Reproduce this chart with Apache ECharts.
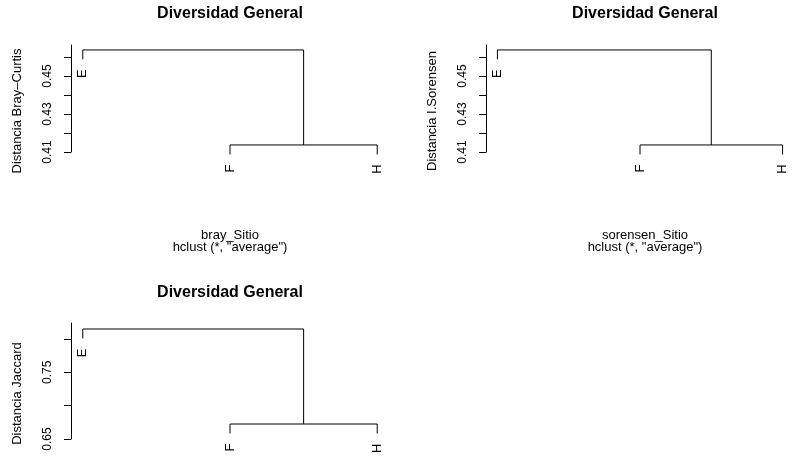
<!DOCTYPE html>
<html><head><meta charset="utf-8">
<script src="https://cdn.jsdelivr.net/npm/echarts@6/dist/echarts.min.js"></script>
<style>html,body{margin:0;padding:0;background:#fff}#c{width:794px;height:457px}</style>
</head><body><div id="c"></div>
<script>
// ---- data ----
const leafLabels = ['E', 'F', 'H'];           // leaves in plotting order
const mergeLeft  = [-2, -1];                   // R hclust merge matrix (negative = leaf)
const mergeRight = [-3, 1];
const brayHeights     = [0.4137, 0.4637];
const sorensenHeights = [0.4137, 0.4637];
const jaccardHeights  = [0.6725, 0.815];
const brayTicks        = [0.41, 0.42, 0.43, 0.44, 0.45, 0.46];
const brayTickLabels   = [0.41, 0.43, 0.45];
const jaccardTicks      = [0.65, 0.70, 0.75, 0.80];
const jaccardTickLabels = [0.65, 0.75];
const brayAxisRange    = [0.41, 0.4663];
const jaccardAxisRange = [0.65, 0.824];
const panelTitle = 'Diversidad General';
const yNames = ['Distancia Bray–Curtis', 'Distancia I.Sorensen', 'Distancia Jaccard'];
const subTitles = ['bray_Sitio\nhclust (*, "average")', 'sorensen_Sitio\nhclust (*, "average")'];

const FONT = '"Liberation Sans", Arial, Helvetica, sans-serif';

function dendro(heights) {
  const hang = 0.1 * (Math.max(...heights) - Math.min(...heights));
  const mx = [];
  const segs = [];
  const leaves = [];
  function child(id, h) {
    if (id < 0) {
      const pos = -id;
      leaves.push([pos, h - hang, pos - 1]);
      return [pos, h - hang];
    }
    return [mx[id - 1], heights[id - 1]];
  }
  for (let i = 0; i < heights.length; i++) {
    const h = heights[i];
    const l = child(mergeLeft[i], h);
    const r = child(mergeRight[i], h);
    mx.push((l[0] + r[0]) / 2);
    segs.push([l[0], l[1], r[0], r[1], h]);
  }
  return { segs, leaves };
}

const panels = [
  { heights: brayHeights, ticks: brayTicks, labels: brayTickLabels, range: brayAxisRange },
  { heights: sorensenHeights, ticks: brayTicks, labels: brayTickLabels, range: brayAxisRange },
  { heights: jaccardHeights, ticks: jaccardTicks, labels: jaccardTickLabels, range: jaccardAxisRange }
];
const grids = [
  { left: 71, top: 45, width: 318, height: 107 },
  { left: 486, top: 45, width: 318, height: 107 },
  { left: 71, top: 323, width: 318, height: 116 }
];

const xAxis = [], yAxis = [], series = [];
panels.forEach((p, i) => {
  xAxis.push({ gridIndex: i, type: 'value', min: 0.92, max: leafLabels.length + 0.08, show: false });
  yAxis.push({
    gridIndex: i, type: 'value', min: p.range[0], max: p.range[1],
    splitLine: { show: false },
    axisLine: { show: true, lineStyle: { color: '#000', width: 1 } },
    axisTick: { show: true, length: 7, customValues: p.ticks, lineStyle: { color: '#000', width: 1 } },
    axisLabel: { customValues: p.labels, rotate: 90, margin: 17, color: '#000', fontSize: 12, fontFamily: FONT,
      formatter: v => Number(v).toFixed(2) },
    name: yNames[i], nameLocation: 'middle', nameRotate: 90, nameGap: 47,
    nameTextStyle: { color: '#000', fontSize: 13, fontFamily: FONT, padding: [0, 25, 0, 0] }
  });
  const d = dendro(p.heights);
  series.push({
    type: 'custom', xAxisIndex: i, yAxisIndex: i, data: d.segs, clip: false, silent: true,
    renderItem: (params, api) => {
      const a = api.coord([api.value(0), api.value(1)]);
      const b = api.coord([api.value(0), api.value(4)]);
      const c = api.coord([api.value(2), api.value(4)]);
      const e = api.coord([api.value(2), api.value(3)]);
      return { type: 'polyline', shape: { points: [a, b, c, e] },
        style: { stroke: '#000', lineWidth: 1, fill: null } };
    }
  });
  series.push({
    type: 'custom', xAxisIndex: i, yAxisIndex: i, data: d.leaves, clip: false, silent: true,
    renderItem: (params, api) => {
      const pt = api.coord([api.value(0), api.value(1)]);
      return { type: 'text', x: pt[0], y: pt[1] + 10, rotation: Math.PI / 2,
        style: { text: leafLabels[api.value(2)], align: 'right', verticalAlign: 'middle',
          fill: '#000', fontSize: 13, fontFamily: FONT } };
    }
  });
});

const titleStyle = { fontSize: 16, fontWeight: 'bold', color: '#000', fontFamily: FONT };
const subStyle = { fontSize: 13, fontWeight: 'normal', color: '#000', fontFamily: FONT, lineHeight: 12 };
const title = [
  { text: panelTitle, left: 230, top: 6, textAlign: 'center', padding: 0, textStyle: titleStyle },
  { text: panelTitle, left: 645, top: 6, textAlign: 'center', padding: 0, textStyle: titleStyle },
  { text: panelTitle, left: 230, top: 285, textAlign: 'center', padding: 0, textStyle: titleStyle },
  { text: subTitles[0], left: 230, top: 229, textAlign: 'center', padding: 0, textStyle: subStyle },
  { text: subTitles[1], left: 645, top: 229, textAlign: 'center', padding: 0, textStyle: subStyle }
];

const chart = echarts.init(document.getElementById('c'), null, { renderer: 'canvas' });
chart.setOption({ animation: false, backgroundColor: '#fff', title, grid: grids, xAxis, yAxis, series });
</script></body></html>
